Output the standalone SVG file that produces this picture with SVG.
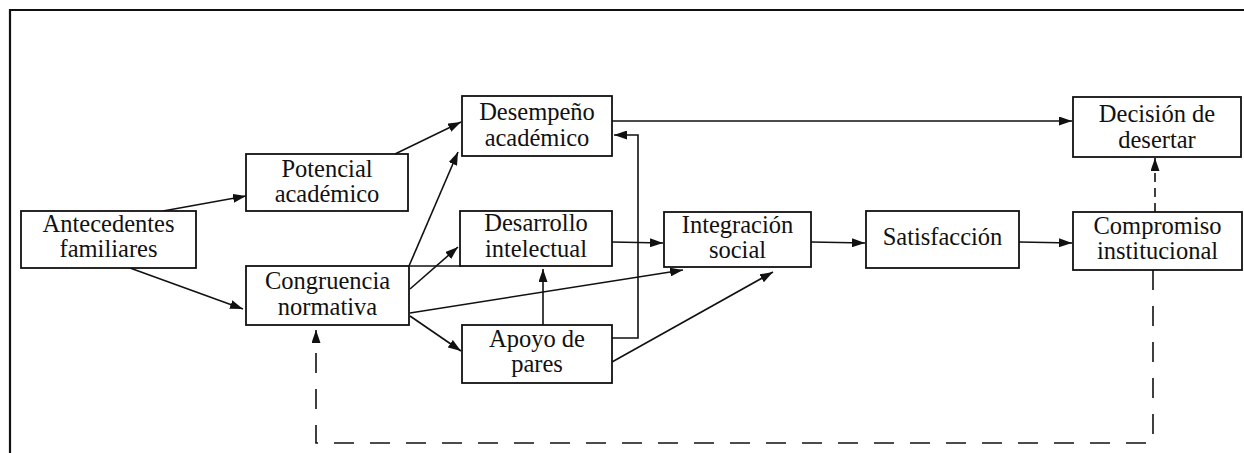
<svg xmlns="http://www.w3.org/2000/svg" width="1244" height="453" viewBox="0 0 1244 453">
<style>
.box{fill:#fff;stroke:#111;stroke-width:1.8}
.t{font-size:24.5px;fill:#111;text-anchor:middle}
.c{fill:none;stroke:#111;stroke-width:1.6}
.d{fill:none;stroke:#111;stroke-width:1.6;stroke-dasharray:20 16}
.d2{fill:none;stroke:#111;stroke-width:1.6;stroke-dasharray:9 6}
.frame{fill:none;stroke:#111;stroke-width:2.2}
</style>
<defs>
<marker id="ah" markerUnits="userSpaceOnUse" markerWidth="13" markerHeight="9" refX="13" refY="4.5" orient="auto">
<path d="M0,0 L13,4.5 L0,9 z" fill="#111"/>
</marker>
</defs>
<rect width="1244" height="453" fill="#fff"/>
<path class="frame" d="M10,453 V10 H1244"/>

<g id="connectors">
<line class="c" x1="163" y1="211" x2="246" y2="196" marker-end="url(#ah)"/>
<line class="c" x1="130" y1="268" x2="243" y2="309" marker-end="url(#ah)"/>
<line class="c" x1="395" y1="154" x2="461" y2="122" marker-end="url(#ah)"/>
<line class="c" x1="409" y1="266" x2="458" y2="152" marker-end="url(#ah)"/>
<line class="c" x1="410" y1="289" x2="458" y2="247" marker-end="url(#ah)"/>
<line class="c" x1="410" y1="313" x2="683" y2="270" marker-end="url(#ah)"/>
<line class="c" x1="410" y1="316" x2="461" y2="351" marker-end="url(#ah)"/>
<line class="c" x1="410" y1="266" x2="461" y2="266"/>
<line class="c" x1="612" y1="242" x2="663" y2="243" marker-end="url(#ah)"/>
<line class="c" x1="543" y1="325" x2="543" y2="269" marker-end="url(#ah)"/>
<path class="c" d="M612,338 H638 V135 H614" marker-end="url(#ah)"/>
<line class="c" x1="612" y1="362" x2="773" y2="272" marker-end="url(#ah)"/>
<line class="c" x1="612" y1="121" x2="1072" y2="121" marker-end="url(#ah)"/>
<line class="c" x1="811" y1="242" x2="865" y2="243" marker-end="url(#ah)"/>
<line class="c" x1="1019" y1="242" x2="1072" y2="243" marker-end="url(#ah)"/>
<line class="d2" x1="1155" y1="212" x2="1155" y2="158" marker-end="url(#ah)"/>
<path class="d" d="M1153,270 V443 H316 V330" marker-end="url(#ah)"/>
</g>

<g font-family="Liberation Serif, DejaVu Serif, serif">
<g id="antecedentes">
<rect class="box" x="21" y="211" width="175" height="57"/>
<text class="t" x="108.5" y="232">Antecedentes</text>
<text class="t" x="108.5" y="257">familiares</text>
</g>
<g id="potencial">
<rect class="box" x="246" y="154" width="162" height="57"/>
<text class="t" x="327" y="177">Potencial</text>
<text class="t" x="327" y="202">académico</text>
</g>
<g id="congruencia">
<rect class="box" x="246" y="266" width="163" height="59"/>
<text class="t" x="327.5" y="289">Congruencia</text>
<text class="t" x="327.5" y="315">normativa</text>
</g>
<g id="desempeno">
<rect class="box" x="462" y="96" width="150" height="60"/>
<text class="t" x="537" y="120">Desempeño</text>
<text class="t" x="537" y="146">académico</text>
</g>
<g id="desarrollo">
<rect class="box" x="460" y="211" width="152" height="55"/>
<text class="t" x="536" y="231">Desarrollo</text>
<text class="t" x="536" y="257">intelectual</text>
</g>
<g id="apoyo">
<rect class="box" x="462" y="325" width="150" height="58"/>
<text class="t" x="537" y="347">Apoyo de</text>
<text class="t" x="537" y="372">pares</text>
</g>
<g id="integracion">
<rect class="box" x="664" y="212" width="147" height="55"/>
<text class="t" x="737.5" y="233">Integración</text>
<text class="t" x="737.5" y="258">social</text>
</g>
<g id="satisfaccion">
<rect class="box" x="866" y="211" width="153" height="57"/>
<text class="t" x="942.5" y="245">Satisfacción</text>
</g>
<g id="compromiso">
<rect class="box" x="1073" y="212" width="169" height="58"/>
<text class="t" x="1157.5" y="234">Compromiso</text>
<text class="t" x="1157.5" y="259">institucional</text>
</g>
<g id="decision">
<rect class="box" x="1073" y="97" width="168" height="60"/>
<text class="t" x="1157" y="122">Decisión de</text>
<text class="t" x="1157" y="148">desertar</text>
</g>
</g>
</svg>
